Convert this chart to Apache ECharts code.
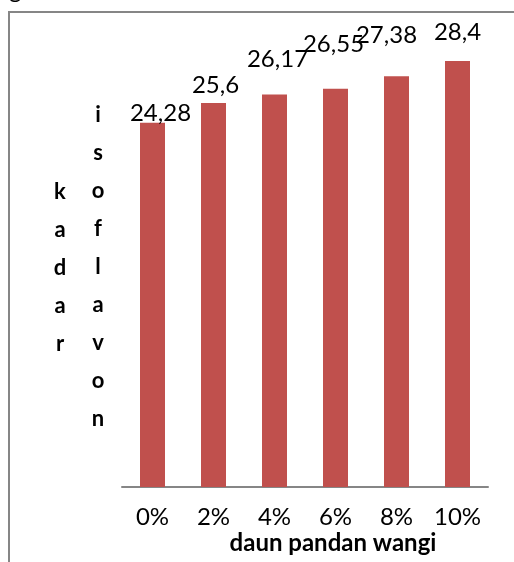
<!DOCTYPE html>
<html>
<head>
<meta charset="utf-8">
<script src="https://cdn.jsdelivr.net/npm/echarts@6/dist/echarts.min.js"></script>
<style>
html,body{margin:0;padding:0;background:#fff;}
#c{width:514px;height:562px;}
</style>
</head>
<body>
<div id="c"></div>
<script>
// ---- data ----
const categories = ['0%', '2%', '4%', '6%', '8%', '10%'];
const values = [24.28, 25.6, 26.17, 26.55, 27.38, 28.4];
const xAxisTitle = 'daun pandan wangi';
const yTitleLeft = 'kadar';
const yTitleRight = 'isoflavon';

// ---- layout (label nudges, as placed in the original) ----
const labelShift = [[8, 2], [2, -6], [3, -23], [-2, -32], [-10, -29], [0, -17]];

const FONT = 'Lato, "Liberation Sans", sans-serif';
const chart = echarts.init(document.getElementById('c'), null, {renderer: 'canvas'});

const option = {
  backgroundColor: '#ffffff',
  animation: false,
  grid: {left: 122, right: 26, top: 37, bottom: 75, containLabel: false},
  xAxis: {
    type: 'category',
    data: categories,
    axisLine: {show: true, lineStyle: {color: '#868686', width: 2}},
    axisTick: {show: false},
    axisLabel: {color: '#000', fontSize: 24, fontFamily: FONT, margin: 18, interval: 0}
  },
  yAxis: {
    type: 'value',
    min: 0,
    max: 30,
    show: false,
    splitLine: {show: false}
  },
  series: [{
    type: 'bar',
    barWidth: 25,
    itemStyle: {color: '#C0504D'},
    label: {
      show: true,
      position: 'top',
      distance: 0,
      color: '#000',
      fontSize: 24,
      fontFamily: FONT,
      formatter: p => String(p.value).replace('.', ',')
    },
    data: values.map((v, i) => ({value: v, label: {offset: labelShift[i]}}))
  }],
  graphic: [
    {
      type: 'polyline',
      silent: true,
      shape: {points: [[9, 562], [9, 12], [514, 12]]},
      style: {stroke: '#868686', lineWidth: 2, fill: null}
    },
    {
      type: 'text',
      x: 9, y: 2,
      style: {text: 'g', font: '24px ' + FONT, fill: '#000', align: 'left', verticalAlign: 'bottom'}
    },
    {
      type: 'text',
      x: 60, y: 173,
      style: {
        text: yTitleLeft.split('').join('\n'),
        font: 'bold 22px ' + FONT,
        fill: '#000',
        lineHeight: 38,
        align: 'center',
        verticalAlign: 'top'
      }
    },
    {
      type: 'text',
      x: 98, y: 96,
      style: {
        text: yTitleRight.split('').join('\n'),
        font: 'bold 22px ' + FONT,
        fill: '#000',
        lineHeight: 38,
        align: 'center',
        verticalAlign: 'top'
      }
    },
    {
      type: 'text',
      x: 333, y: 543,
      style: {text: xAxisTitle, font: 'bold 24px ' + FONT, fill: '#000', align: 'center', verticalAlign: 'middle'}
    }
  ]
};
chart.setOption(option);
</script>
</body>
</html>
